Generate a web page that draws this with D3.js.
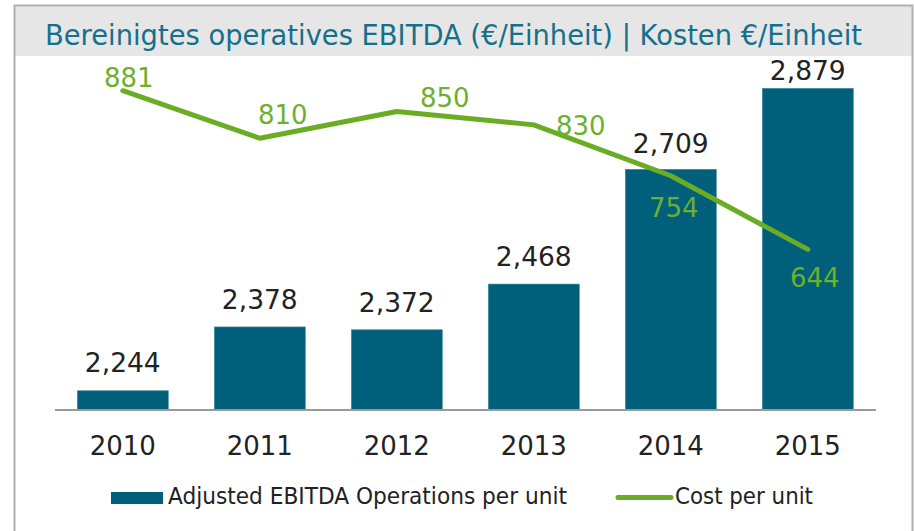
<!DOCTYPE html>
<html>
<head>
<meta charset="utf-8">
<script src="https://cdn.jsdelivr.net/npm/d3@7"></script>
<style>
  html, body { margin: 0; padding: 0; background: #fff; }
  svg { display: block; }
  text { font-family: "DejaVu Sans", Verdana, sans-serif; }
</style>
</head>
<body>
<svg id="chart" width="914" height="531"></svg>
<script>
// ---- Data ----
const years = ["2010", "2011", "2012", "2013", "2014", "2015"];
const ebitdaPerUnit = [2244, 2378, 2372, 2468, 2709, 2879];
const costPerUnit = [881, 810, 850, 830, 754, 644];
const titleText = "Bereinigtes operatives EBITDA (€/Einheit) | Kosten €/Einheit";
const legendLabels = ["Adjusted EBITDA Operations per unit", "Cost per unit"];

// ---- Layout / style (not data) ----
const barLabelDy = [-19, -18, -18, -18, -16.5, -8.5];
const lineLabelDx = [6, 23, 48, 47, 3, 7];
const lineLabelDy = [-3.5, -14, -4.5, 10.5, 41, 37.5];
const barColor = "#005f7a";
const lineColor = "#6aad24";
const labelGreen = "#6cb02c";
const textDark = "#222222";

const svg = d3.select("#chart");
const fmt = d3.format(",");

// frame + title band
svg.append("rect").attr("x", 15).attr("y", 6).attr("width", 897).attr("height", 50)
  .attr("fill", "#e6e6e6");
svg.append("path").attr("d", "M14.5,531 V5.5 H912.5 V531")
  .attr("fill", "none").attr("stroke", "#b0b0b0").attr("stroke-width", 2);
svg.append("text").attr("x", 45).attr("y", 44.5)
  .attr("font-size", 27.5).attr("fill", "#14708c")
  .attr("textLength", 817).attr("lengthAdjust", "spacingAndGlyphs")
  .text(titleText);

// scales
const x = d3.scaleBand().domain(years).range([54.3, 876.3])
  .paddingInner(0.336).paddingOuter(0.168);
const baseline = 410;
const y = d3.scaleLinear().domain([2200, 2900]).range([411.7, 411.7 - 700 * 0.4762]);
const y2 = d3.scaleLinear().domain([0, 1000]).range([680.3, 680.3 - 1000 * 0.6692]);

// bars
svg.append("g").selectAll("rect").data(years).join("rect")
  .attr("x", d => x(d))
  .attr("width", x.bandwidth())
  .attr("y", (d, i) => y(ebitdaPerUnit[i]))
  .attr("height", (d, i) => baseline - y(ebitdaPerUnit[i]))
  .attr("fill", barColor)
  .attr("stroke", "#3f8aa0").attr("stroke-width", 0.6);

// bar labels
svg.append("g").selectAll("text").data(years).join("text")
  .attr("x", d => x(d) + x.bandwidth() / 2)
  .attr("y", (d, i) => y(ebitdaPerUnit[i]) + barLabelDy[i])
  .attr("text-anchor", "middle")
  .attr("font-size", 26.5).attr("fill", textDark)
  .text((d, i) => fmt(ebitdaPerUnit[i]));

// x axis
const xAxis = d3.axisBottom(x).tickSize(0).tickPadding(0);
const gx = svg.append("g").attr("transform", `translate(0,${baseline})`).call(xAxis);
gx.select(".domain").remove();
gx.selectAll("text").attr("font-size", 26).attr("fill", textDark)
  .attr("dy", null).attr("y", 45)
  .style("font-family", "'DejaVu Sans', Verdana, sans-serif");
svg.append("line").attr("x1", 55).attr("x2", 876).attr("y1", baseline).attr("y2", baseline)
  .attr("stroke", "#999").attr("stroke-width", 2);

// line
const line = d3.line()
  .x((d, i) => x(years[i]) + x.bandwidth() / 2)
  .y(d => y2(d));
svg.append("path").datum(costPerUnit)
  .attr("d", line)
  .attr("fill", "none").attr("stroke", lineColor).attr("stroke-width", 5)
  .attr("stroke-linecap", "round").attr("stroke-linejoin", "round");

// line labels
svg.append("g").selectAll("text").data(costPerUnit).join("text")
  .attr("x", (d, i) => x(years[i]) + x.bandwidth() / 2 + lineLabelDx[i])
  .attr("y", (d, i) => y2(d) + lineLabelDy[i])
  .attr("text-anchor", "middle")
  .attr("font-size", 26).attr("fill", labelGreen)
  .text(d => fmt(d));

// legend
const lg = svg.append("g");
lg.append("rect").attr("x", 111).attr("y", 492).attr("width", 52).attr("height", 12)
  .attr("fill", barColor);
lg.append("text").attr("x", 168).attr("y", 504)
  .attr("font-size", 22.5).attr("fill", textDark)
  .attr("textLength", 399).attr("lengthAdjust", "spacingAndGlyphs")
  .text(legendLabels[0]);
lg.append("line").attr("x1", 618).attr("x2", 671).attr("y1", 497.5).attr("y2", 497.5)
  .attr("stroke", lineColor).attr("stroke-width", 5).attr("stroke-linecap", "round");
lg.append("text").attr("x", 675).attr("y", 504)
  .attr("font-size", 22.5).attr("fill", textDark)
  .attr("textLength", 138).attr("lengthAdjust", "spacingAndGlyphs")
  .text(legendLabels[1]);
</script>
</body>
</html>
